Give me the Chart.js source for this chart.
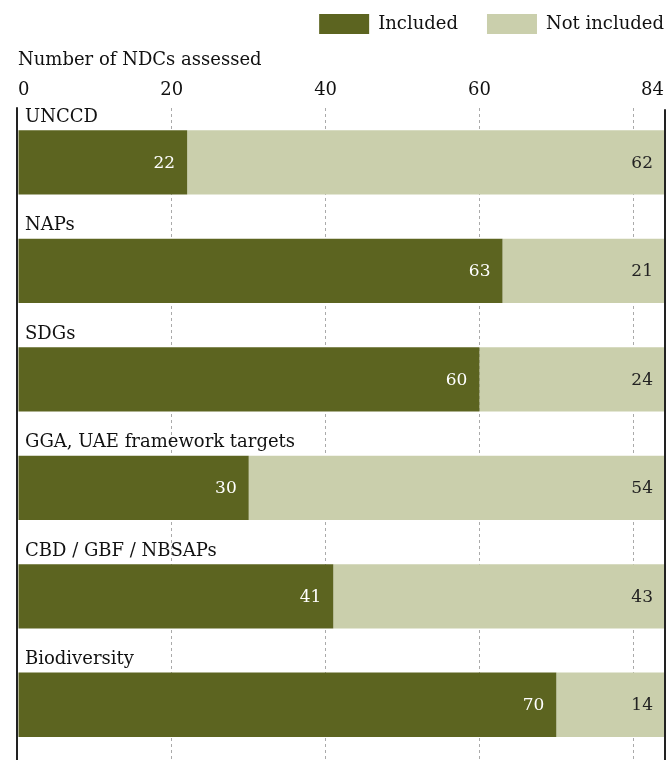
<!DOCTYPE html>
<html>
<head>
<meta charset="utf-8">
<script src="https://cdn.jsdelivr.net/npm/chart.js@4.4.1/dist/chart.umd.min.js"></script>
<style>
  html, body { margin: 0; padding: 0; background: #fff; }
  #wrap { width: 670px; height: 760px; }
</style>
</head>
<body>
<div id="wrap"><canvas id="chart"></canvas></div>
<script>
const categories = ['UNCCD', 'NAPs', 'SDGs', 'GGA, UAE framework targets', 'CBD / GBF / NBSAPs', 'Biodiversity'];
const included = [22, 63, 60, 30, 41, 70];
const notIncluded = [62, 21, 24, 54, 43, 14];
const tickValues = [0, 20, 40, 60, 80, 84];

const DARK = '#5c6420';
const LIGHT = '#cacfac';
const FONT = "'DejaVu Serif', 'Liberation Serif', serif";

// category names above bars, values inside bars, frame lines
const labelsPlugin = {
  id: 'labels',
  afterDatasetsDraw(chart) {
    const ctx = chart.ctx;
    const area = chart.chartArea;
    ctx.save();
    ctx.strokeStyle = '#222';
    ctx.lineWidth = 2;
    ctx.beginPath();
    ctx.moveTo(area.left - 1, area.top - 1);
    ctx.lineTo(area.left - 1, chart.height);
    ctx.moveTo(area.right + 1, area.top + 1);
    ctx.lineTo(area.right + 1, chart.height);
    ctx.stroke();

    const m0 = chart.getDatasetMeta(0);
    const m1 = chart.getDatasetMeta(1);
    ctx.font = '18px ' + FONT;
    ctx.fillStyle = '#111';
    ctx.textAlign = 'left';
    ctx.textBaseline = 'bottom';
    m0.data.forEach((bar, i) => {
      const top = bar.y - bar.height / 2;
      ctx.fillText(categories[i], area.left + 7, top - 4);
    });

    ctx.font = '17px ' + FONT;
    ctx.textAlign = 'right';
    ctx.textBaseline = 'middle';
    m0.data.forEach((bar, i) => {
      ctx.fillStyle = '#fff';
      ctx.fillText(included[i], bar.x - 12, bar.y + 1);
    });
    m1.data.forEach((bar, i) => {
      ctx.fillStyle = '#222';
      ctx.fillText(notIncluded[i], bar.x - 11, bar.y + 1);
    });
    ctx.restore();
  }
};

new Chart(document.getElementById('chart'), {
  type: 'bar',
  data: {
    labels: categories,
    datasets: [
      { label: 'Included', data: included, backgroundColor: DARK },
      { label: 'Not included', data: notIncluded, backgroundColor: LIGHT }
    ]
  },
  options: {
    indexAxis: 'y',
    responsive: true,
    maintainAspectRatio: false,
    animation: false,
    barPercentage: 0.593,
    categoryPercentage: 1,
    layout: { padding: { left: 18, right: 4, top: 12, bottom: 1 } },
    plugins: {
      legend: {
        position: 'top',
        align: 'end',
        labels: {
          boxWidth: 50,
          boxHeight: 20,
          padding: 2,
          color: '#111',
          font: { family: FONT, size: 18 },
          generateLabels(chart) {
            const items = Chart.defaults.plugins.legend.labels.generateLabels(chart);
            // extra room after the first entry, as in the original layout
            items.forEach((it, i) => {
              it.lineWidth = 0;
              if (i < items.length - 1) it.text += '\u2003\u2002';
            });
            return items;
          }
        }
      },
      tooltip: { enabled: false }
    },
    scales: {
      x: {
        position: 'top',
        stacked: true,
        min: 0,
        max: 84,
        afterBuildTicks(scale) {
          scale.ticks = tickValues.map(v => ({ value: v }));
        },
        afterFit(scale) {
          // keep the label gap from widening the right side
          scale.paddingRight = 6;
        },
        ticks: {
          align: 'inner',
          padding: 7,
          color: '#111',
          font: { family: FONT, size: 18 },
          callback: v => (v === 80 ? '' : v)
        },
        title: {
          display: true,
          text: 'Number of NDCs assessed',
          align: 'start',
          color: '#111',
          font: { family: FONT, size: 18 },
          padding: { top: 6, bottom: 1 }
        },
        grid: {
          drawTicks: false,
          color: ctx => (ctx.tick && (ctx.tick.value === 0 || ctx.tick.value === 84) ? 'rgba(0,0,0,0)' : '#aaa'),
          lineWidth: 1
        },
        border: { display: false, dash: [3, 3] }
      },
      y: {
        stacked: true,
        display: false
      }
    }
  },
  plugins: [labelsPlugin]
});
</script>
</body>
</html>
